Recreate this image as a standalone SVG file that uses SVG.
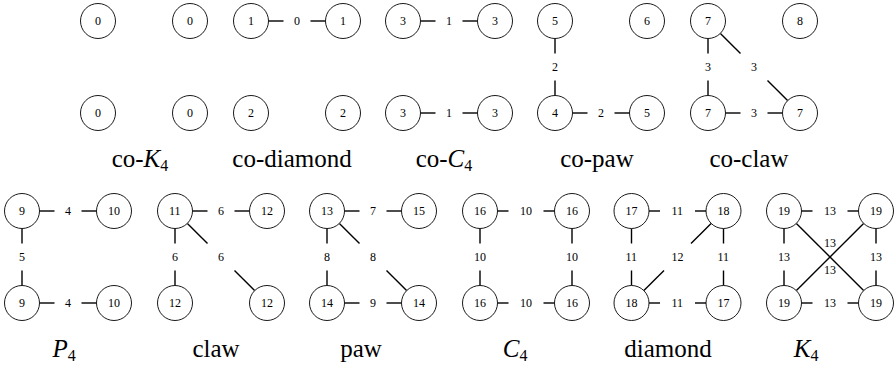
<svg xmlns="http://www.w3.org/2000/svg" width="895" height="366" viewBox="0 0 895 366">
<style>
.nd circle{fill:#fff;stroke:#000;stroke-width:0.9}
.e line{stroke:#000;stroke-width:1.4;fill:none}
</style>
<rect width="895" height="366" fill="#fff"/>
<g id="connectors" class="e">
<line x1="268.5" y1="21" x2="283.5" y2="21"/><line x1="310.5" y1="21" x2="325.5" y2="21"/>
<line x1="420.5" y1="21" x2="435.5" y2="21"/><line x1="462.5" y1="21" x2="477.5" y2="21"/>
<line x1="420.5" y1="113" x2="435.5" y2="113"/><line x1="462.5" y1="113" x2="477.5" y2="113"/>
<line x1="555" y1="38.5" x2="555" y2="53.5"/><line x1="555" y1="80.5" x2="555" y2="95.5"/>
<line x1="572.5" y1="113" x2="587.5" y2="113"/><line x1="614.5" y1="113" x2="629.5" y2="113"/>
<line x1="708" y1="38.5" x2="708" y2="53.5"/><line x1="708" y1="80.5" x2="708" y2="95.5"/>
<line x1="725.5" y1="113" x2="740.5" y2="113"/><line x1="767.5" y1="113" x2="782.5" y2="113"/>
<line x1="720.4" y1="33.4" x2="740.5" y2="53.5"/><line x1="767.5" y1="80.5" x2="787.6" y2="100.6"/>
<line x1="39.5" y1="211" x2="54.5" y2="211"/><line x1="81.5" y1="211" x2="96.5" y2="211"/>
<line x1="39.5" y1="303" x2="54.5" y2="303"/><line x1="81.5" y1="303" x2="96.5" y2="303"/>
<line x1="22" y1="228.5" x2="22" y2="243.5"/><line x1="22" y1="270.5" x2="22" y2="285.5"/>
<line x1="192.5" y1="211" x2="207.5" y2="211"/><line x1="234.5" y1="211" x2="249.5" y2="211"/>
<line x1="175" y1="228.5" x2="175" y2="243.5"/><line x1="175" y1="270.5" x2="175" y2="285.5"/>
<line x1="187.4" y1="223.4" x2="207.5" y2="243.5"/><line x1="234.5" y1="270.5" x2="254.6" y2="290.6"/>
<line x1="344.5" y1="211" x2="359.5" y2="211"/><line x1="386.5" y1="211" x2="401.5" y2="211"/>
<line x1="327" y1="228.5" x2="327" y2="243.5"/><line x1="327" y1="270.5" x2="327" y2="285.5"/>
<line x1="339.4" y1="223.4" x2="359.5" y2="243.5"/><line x1="386.5" y1="270.5" x2="406.6" y2="290.6"/>
<line x1="344.5" y1="303" x2="359.5" y2="303"/><line x1="386.5" y1="303" x2="401.5" y2="303"/>
<line x1="497.5" y1="211" x2="508.5" y2="211"/><line x1="543.5" y1="211" x2="554.5" y2="211"/>
<line x1="497.5" y1="303" x2="508.5" y2="303"/><line x1="543.5" y1="303" x2="554.5" y2="303"/>
<line x1="480" y1="228.5" x2="480" y2="243.5"/><line x1="480" y1="270.5" x2="480" y2="285.5"/>
<line x1="572" y1="228.5" x2="572" y2="243.5"/><line x1="572" y1="270.5" x2="572" y2="285.5"/>
<line x1="649" y1="211" x2="660" y2="211"/><line x1="695" y1="211" x2="706" y2="211"/>
<line x1="649" y1="303" x2="660" y2="303"/><line x1="695" y1="303" x2="706" y2="303"/>
<line x1="631.5" y1="228.5" x2="631.5" y2="243.5"/><line x1="631.5" y1="270.5" x2="631.5" y2="285.5"/>
<line x1="723.5" y1="228.5" x2="723.5" y2="243.5"/><line x1="723.5" y1="270.5" x2="723.5" y2="285.5"/>
<line x1="711.1" y1="223.4" x2="691" y2="243.5"/><line x1="664" y1="270.5" x2="643.9" y2="290.6"/>
<line x1="801.5" y1="211" x2="812.5" y2="211"/><line x1="847.5" y1="211" x2="858.5" y2="211"/>
<line x1="801.5" y1="303" x2="812.5" y2="303"/><line x1="847.5" y1="303" x2="858.5" y2="303"/>
<line x1="784" y1="228.5" x2="784" y2="243.5"/><line x1="784" y1="270.5" x2="784" y2="285.5"/>
<line x1="876" y1="228.5" x2="876" y2="243.5"/><line x1="876" y1="270.5" x2="876" y2="285.5"/>
<line x1="796.4" y1="223.4" x2="863.6" y2="290.6"/><line x1="863.6" y1="223.4" x2="796.4" y2="290.6"/>
</g>
<g id="edge-labels">
<text x="294" y="25" font-family="Liberation Serif" font-size="12">0</text>
<text x="446" y="25" font-family="Liberation Serif" font-size="12">1</text>
<text x="446" y="117" font-family="Liberation Serif" font-size="12">1</text>
<text x="552" y="71" font-family="Liberation Serif" font-size="12">2</text>
<text x="598" y="117" font-family="Liberation Serif" font-size="12">2</text>
<text x="705" y="71" font-family="Liberation Serif" font-size="12">3</text>
<text x="751" y="71" font-family="Liberation Serif" font-size="12">3</text>
<text x="751" y="117" font-family="Liberation Serif" font-size="12">3</text>
<text x="65" y="215" font-family="Liberation Serif" font-size="12">4</text>
<text x="65" y="307" font-family="Liberation Serif" font-size="12">4</text>
<text x="19" y="261" font-family="Liberation Serif" font-size="12">5</text>
<text x="218" y="215" font-family="Liberation Serif" font-size="12">6</text>
<text x="172" y="261" font-family="Liberation Serif" font-size="12">6</text>
<text x="218" y="261" font-family="Liberation Serif" font-size="12">6</text>
<text x="370" y="215" font-family="Liberation Serif" font-size="12">7</text>
<text x="324" y="261" font-family="Liberation Serif" font-size="12">8</text>
<text x="370" y="261" font-family="Liberation Serif" font-size="12">8</text>
<text x="370" y="307" font-family="Liberation Serif" font-size="12">9</text>
<text x="520" y="215" font-family="Liberation Serif" font-size="12">10</text>
<text x="520" y="307" font-family="Liberation Serif" font-size="12">10</text>
<text x="474" y="261" font-family="Liberation Serif" font-size="12">10</text>
<text x="566" y="261" font-family="Liberation Serif" font-size="12">10</text>
<text x="671.5" y="215" font-family="Liberation Serif" font-size="12">11</text>
<text x="671.5" y="307" font-family="Liberation Serif" font-size="12">11</text>
<text x="625.5" y="261" font-family="Liberation Serif" font-size="12">11</text>
<text x="717.5" y="261" font-family="Liberation Serif" font-size="12">11</text>
<text x="671.5" y="261" font-family="Liberation Serif" font-size="12">12</text>
<text x="824" y="215" font-family="Liberation Serif" font-size="12">13</text>
<text x="824" y="307" font-family="Liberation Serif" font-size="12">13</text>
<text x="778" y="261" font-family="Liberation Serif" font-size="12">13</text>
<text x="870" y="261" font-family="Liberation Serif" font-size="12">13</text>
<text x="824" y="247" font-family="Liberation Serif" font-size="12">13</text>
<text x="824" y="274" font-family="Liberation Serif" font-size="12">13</text>
</g>
<g id="coK4-a" class="nd"><circle cx="98" cy="21" r="17.5"/><text x="95" y="25" font-family="Liberation Serif" font-size="12">0</text></g>
<g id="coK4-b" class="nd"><circle cx="190" cy="21" r="17.5"/><text x="187" y="25" font-family="Liberation Serif" font-size="12">0</text></g>
<g id="coK4-c" class="nd"><circle cx="98" cy="113" r="17.5"/><text x="95" y="117" font-family="Liberation Serif" font-size="12">0</text></g>
<g id="coK4-d" class="nd"><circle cx="190" cy="113" r="17.5"/><text x="187" y="117" font-family="Liberation Serif" font-size="12">0</text></g>
<g id="coDiamond-a" class="nd"><circle cx="251" cy="21" r="17.5"/><text x="248" y="25" font-family="Liberation Serif" font-size="12">1</text></g>
<g id="coDiamond-b" class="nd"><circle cx="343" cy="21" r="17.5"/><text x="340" y="25" font-family="Liberation Serif" font-size="12">1</text></g>
<g id="coDiamond-c" class="nd"><circle cx="251" cy="113" r="17.5"/><text x="248" y="117" font-family="Liberation Serif" font-size="12">2</text></g>
<g id="coDiamond-d" class="nd"><circle cx="343" cy="113" r="17.5"/><text x="340" y="117" font-family="Liberation Serif" font-size="12">2</text></g>
<g id="coC4-a" class="nd"><circle cx="403" cy="21" r="17.5"/><text x="400" y="25" font-family="Liberation Serif" font-size="12">3</text></g>
<g id="coC4-b" class="nd"><circle cx="495" cy="21" r="17.5"/><text x="492" y="25" font-family="Liberation Serif" font-size="12">3</text></g>
<g id="coC4-c" class="nd"><circle cx="403" cy="113" r="17.5"/><text x="400" y="117" font-family="Liberation Serif" font-size="12">3</text></g>
<g id="coC4-d" class="nd"><circle cx="495" cy="113" r="17.5"/><text x="492" y="117" font-family="Liberation Serif" font-size="12">3</text></g>
<g id="coPaw-a" class="nd"><circle cx="555" cy="21" r="17.5"/><text x="552" y="25" font-family="Liberation Serif" font-size="12">5</text></g>
<g id="coPaw-b" class="nd"><circle cx="647" cy="21" r="17.5"/><text x="644" y="25" font-family="Liberation Serif" font-size="12">6</text></g>
<g id="coPaw-c" class="nd"><circle cx="555" cy="113" r="17.5"/><text x="552" y="117" font-family="Liberation Serif" font-size="12">4</text></g>
<g id="coPaw-d" class="nd"><circle cx="647" cy="113" r="17.5"/><text x="644" y="117" font-family="Liberation Serif" font-size="12">5</text></g>
<g id="coClaw-a" class="nd"><circle cx="708" cy="21" r="17.5"/><text x="705" y="25" font-family="Liberation Serif" font-size="12">7</text></g>
<g id="coClaw-b" class="nd"><circle cx="800" cy="21" r="17.5"/><text x="797" y="25" font-family="Liberation Serif" font-size="12">8</text></g>
<g id="coClaw-c" class="nd"><circle cx="708" cy="113" r="17.5"/><text x="705" y="117" font-family="Liberation Serif" font-size="12">7</text></g>
<g id="coClaw-d" class="nd"><circle cx="800" cy="113" r="17.5"/><text x="797" y="117" font-family="Liberation Serif" font-size="12">7</text></g>
<g id="P4-a" class="nd"><circle cx="22" cy="211" r="17.5"/><text x="19" y="215" font-family="Liberation Serif" font-size="12">9</text></g>
<g id="P4-b" class="nd"><circle cx="114" cy="211" r="17.5"/><text x="108" y="215" font-family="Liberation Serif" font-size="12">10</text></g>
<g id="P4-c" class="nd"><circle cx="22" cy="303" r="17.5"/><text x="19" y="307" font-family="Liberation Serif" font-size="12">9</text></g>
<g id="P4-d" class="nd"><circle cx="114" cy="303" r="17.5"/><text x="108" y="307" font-family="Liberation Serif" font-size="12">10</text></g>
<g id="claw-a" class="nd"><circle cx="175" cy="211" r="17.5"/><text x="169" y="215" font-family="Liberation Serif" font-size="12">11</text></g>
<g id="claw-b" class="nd"><circle cx="267" cy="211" r="17.5"/><text x="261" y="215" font-family="Liberation Serif" font-size="12">12</text></g>
<g id="claw-c" class="nd"><circle cx="175" cy="303" r="17.5"/><text x="169" y="307" font-family="Liberation Serif" font-size="12">12</text></g>
<g id="claw-d" class="nd"><circle cx="267" cy="303" r="17.5"/><text x="261" y="307" font-family="Liberation Serif" font-size="12">12</text></g>
<g id="paw-a" class="nd"><circle cx="327" cy="211" r="17.5"/><text x="321" y="215" font-family="Liberation Serif" font-size="12">13</text></g>
<g id="paw-b" class="nd"><circle cx="419" cy="211" r="17.5"/><text x="413" y="215" font-family="Liberation Serif" font-size="12">15</text></g>
<g id="paw-c" class="nd"><circle cx="327" cy="303" r="17.5"/><text x="321" y="307" font-family="Liberation Serif" font-size="12">14</text></g>
<g id="paw-d" class="nd"><circle cx="419" cy="303" r="17.5"/><text x="413" y="307" font-family="Liberation Serif" font-size="12">14</text></g>
<g id="C4-a" class="nd"><circle cx="480" cy="211" r="17.5"/><text x="474" y="215" font-family="Liberation Serif" font-size="12">16</text></g>
<g id="C4-b" class="nd"><circle cx="572" cy="211" r="17.5"/><text x="566" y="215" font-family="Liberation Serif" font-size="12">16</text></g>
<g id="C4-c" class="nd"><circle cx="480" cy="303" r="17.5"/><text x="474" y="307" font-family="Liberation Serif" font-size="12">16</text></g>
<g id="C4-d" class="nd"><circle cx="572" cy="303" r="17.5"/><text x="566" y="307" font-family="Liberation Serif" font-size="12">16</text></g>
<g id="diamond-a" class="nd"><circle cx="631.5" cy="211" r="17.5"/><text x="625.5" y="215" font-family="Liberation Serif" font-size="12">17</text></g>
<g id="diamond-b" class="nd"><circle cx="723.5" cy="211" r="17.5"/><text x="717.5" y="215" font-family="Liberation Serif" font-size="12">18</text></g>
<g id="diamond-c" class="nd"><circle cx="631.5" cy="303" r="17.5"/><text x="625.5" y="307" font-family="Liberation Serif" font-size="12">18</text></g>
<g id="diamond-d" class="nd"><circle cx="723.5" cy="303" r="17.5"/><text x="717.5" y="307" font-family="Liberation Serif" font-size="12">17</text></g>
<g id="K4-a" class="nd"><circle cx="784" cy="211" r="17.5"/><text x="778" y="215" font-family="Liberation Serif" font-size="12">19</text></g>
<g id="K4-b" class="nd"><circle cx="876" cy="211" r="17.5"/><text x="870" y="215" font-family="Liberation Serif" font-size="12">19</text></g>
<g id="K4-c" class="nd"><circle cx="784" cy="303" r="17.5"/><text x="778" y="307" font-family="Liberation Serif" font-size="12">19</text></g>
<g id="K4-d" class="nd"><circle cx="876" cy="303" r="17.5"/><text x="870" y="307" font-family="Liberation Serif" font-size="12">19</text></g>
<g id="captions">
<text x="111.7" y="167" font-family="Liberation Serif" font-size="25">co-</text>
<text x="143.6" y="167" font-family="Liberation Serif" font-size="25" font-style="italic">K</text>
<text x="160.3" y="171" font-family="Liberation Serif" font-size="16">4</text>
<text x="232.3" y="167" font-family="Liberation Serif" font-size="25">co-diamond</text>
<text x="415.7" y="167" font-family="Liberation Serif" font-size="25">co-</text>
<text x="447.6" y="167" font-family="Liberation Serif" font-size="25" font-style="italic">C</text>
<text x="464.3" y="171" font-family="Liberation Serif" font-size="16">4</text>
<text x="560.2" y="167" font-family="Liberation Serif" font-size="25">co-paw</text>
<text x="709.4" y="167" font-family="Liberation Serif" font-size="25">co-claw</text>
<text x="52.4" y="357" font-family="Liberation Serif" font-size="25" font-style="italic">P</text>
<text x="67.7" y="361" font-family="Liberation Serif" font-size="16">4</text>
<text x="192.4" y="357" font-family="Liberation Serif" font-size="25">claw</text>
<text x="340.2" y="357" font-family="Liberation Serif" font-size="25">paw</text>
<text x="502.7" y="357" font-family="Liberation Serif" font-size="25" font-style="italic">C</text>
<text x="519.4" y="361" font-family="Liberation Serif" font-size="16">4</text>
<text x="624.3" y="357" font-family="Liberation Serif" font-size="25">diamond</text>
<text x="793.7" y="357" font-family="Liberation Serif" font-size="25" font-style="italic">K</text>
<text x="810.4" y="361" font-family="Liberation Serif" font-size="16">4</text>
</g>
</svg>
